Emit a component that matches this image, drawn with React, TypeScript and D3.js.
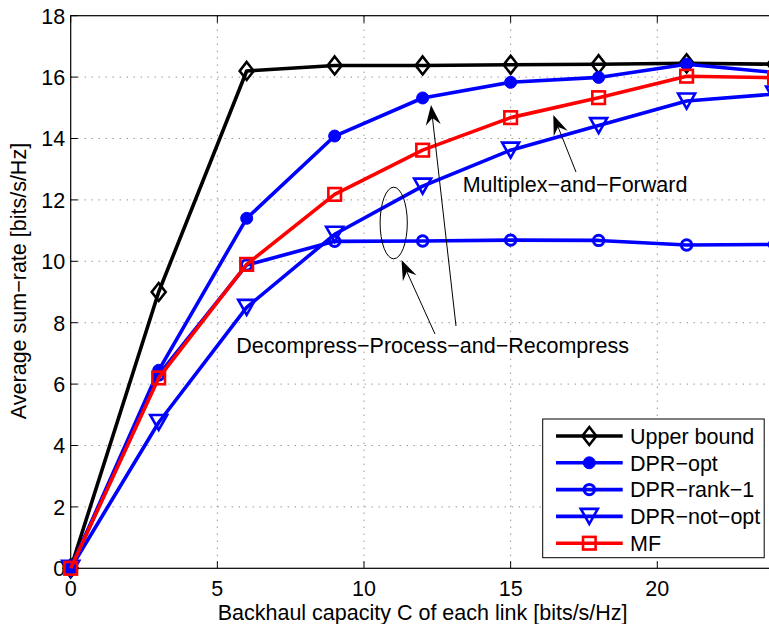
import React from "react";
import * as d3 from "d3";

const xValues = [0, 3, 6, 9, 12, 15, 18, 21, 24];
const upperBound = [0, 9.0, 16.2, 16.38, 16.38, 16.4, 16.42, 16.45, 16.42];
const dprOpt = [0, 6.45, 11.4, 14.08, 15.32, 15.83, 15.99, 16.42, 16.15];
const dprRank1 = [0, 6.3, 9.88, 10.65, 10.66, 10.69, 10.68, 10.53, 10.55];
const dprNotOpt = [0, 4.75, 8.5, 10.88, 12.45, 13.62, 14.42, 15.22, 15.45];
const mf = [0, 6.2, 9.9, 12.18, 13.62, 14.68, 15.33, 16.03, 15.98];

const xTicks = [0, 5, 10, 15, 20];
const yTicks = [0, 2, 4, 6, 8, 10, 12, 14, 16, 18];

const seriesNames = ["Upper bound", "DPR\u2212opt", "DPR\u2212rank\u22121", "DPR\u2212not\u2212opt", "MF"];
const seriesColors = ["#000000", "#0000ff", "#0000ff", "#0000ff", "#ff0000"];
const seriesMarkers = ["diamond", "dot", "circle", "tri", "square"];
const seriesData = [upperBound, dprOpt, dprRank1, dprNotOpt, mf];

const W = 769;
const H = 624;
const FONT = "Liberation Sans, Arial, Helvetica, sans-serif";
const FS = 21.5;

function Marker({ type, cx, cy, color }: { type: string; cx: number; cy: number; color: string }) {
  const sw = 2.6;
  if (type === "diamond") {
    const hw = 7, hh = 9;
    return <path d={`M${cx},${cy - hh}L${cx + hw},${cy}L${cx},${cy + hh}L${cx - hw},${cy}Z`} fill="none" stroke={color} strokeWidth={sw} />;
  }
  if (type === "dot") return <circle cx={cx} cy={cy} r={6} fill={color} stroke={color} strokeWidth={1} />;
  if (type === "circle") return <circle cx={cx} cy={cy} r={5.2} fill="none" stroke={color} strokeWidth={3} />;
  if (type === "tri") {
    const hw = 8.5, h = 7.5;
    return <path d={`M${cx - hw},${cy - h}L${cx + hw},${cy - h}L${cx},${cy + h}Z`} fill="none" stroke={color} strokeWidth={sw} />;
  }
  const s = 6.3;
  return <rect x={cx - s} y={cy - s} width={2 * s} height={2 * s} fill="none" stroke={color} strokeWidth={sw} />;
}

function Arrow({ x1, y1, x2, y2 }: { x1: number; y1: number; x2: number; y2: number }) {
  const dx = x2 - x1, dy = y2 - y1;
  const len = Math.hypot(dx, dy);
  const ux = dx / len, uy = dy / len;
  const px = -uy, py = ux;
  const L = 20, hw = 7.5, notch = 7;
  const bx = x2 - ux * L, by = y2 - uy * L;
  const nx = x2 - ux * (L - notch), ny = y2 - uy * (L - notch);
  const head = `M${x2},${y2}L${bx + px * hw},${by + py * hw}L${nx},${ny}L${bx - px * hw},${by - py * hw}Z`;
  return (
    <g>
      <line x1={x1} y1={y1} x2={nx} y2={ny} stroke="#000" strokeWidth={1} />
      <path d={head} fill="#000" />
    </g>
  );
}

export default function App() {
  const left = 70.7, right = 774.6, top = 15.7, bottom = 568.3;
  const x = d3.scaleLinear().domain([0, 24]).range([left, right]);
  const y = d3.scaleLinear().domain([0, 18]).range([bottom, top]);
  const line = d3.line<number>().x((_, i) => x(xValues[i])).y((v) => y(v));

  const legX = 542.7, legY = 419, legW = 221.5, legH = 138.7;
  const rowH = 26.8;

  return (
    <svg width={W} height={H} style={{ position: "absolute", left: 0, top: 0, background: "#fff" }} fontFamily={FONT}>
      <rect x={0} y={0} width={W} height={H} fill="#fff" />
      {/* grid */}
      {xTicks.slice(1).map((t) => (
        <line key={"gx" + t} x1={x(t)} x2={x(t)} y1={top} y2={bottom} stroke="#666" strokeWidth={1} strokeDasharray="1,6" />
      ))}
      {yTicks.slice(1, -1).map((t) => (
        <line key={"gy" + t} x1={left} x2={right} y1={y(t)} y2={y(t)} stroke="#666" strokeWidth={1} strokeDasharray="1,6" />
      ))}
      {/* ticks */}
      {xTicks.map((t) => (
        <g key={"tx" + t}>
          <line x1={x(t)} x2={x(t)} y1={bottom} y2={bottom - 7} stroke="#000" />
          <line x1={x(t)} x2={x(t)} y1={top} y2={top + 7} stroke="#000" />
          <text x={x(t)} y={bottom + 27.4} fontSize={FS} textAnchor="middle" fill="#000">{t}</text>
        </g>
      ))}
      {yTicks.map((t) => (
        <g key={"ty" + t}>
          <line x1={left} x2={left + 7} y1={y(t)} y2={y(t)} stroke="#000" />
          <text x={left - 5.5} y={y(t) + 7.9} fontSize={FS} textAnchor="end" fill="#000">{t}</text>
        </g>
      ))}
      {/* axes box */}
      <rect x={left} y={top} width={right - left} height={bottom - top} fill="none" stroke="#000" strokeWidth={1.2} />
      {/* series */}
      {seriesData.map((data, si) => (
        <g key={"s" + si}>
          <path d={line(data) || ""} fill="none" stroke={seriesColors[si]} strokeWidth={3.6} strokeLinejoin="round" />
          {data.map((v, i) => (
            <Marker key={i} type={seriesMarkers[si]} cx={x(xValues[i])} cy={y(v)} color={seriesColors[si]} />
          ))}
        </g>
      ))}
      {/* annotations */}
      <ellipse cx={393.7} cy={223} rx={13.6} ry={35.8} fill="none" stroke="#000" strokeWidth={1} />
      <Arrow x1={435} y1={334} x2={401.5} y2={260} />
      <Arrow x1={456} y1={326} x2={431} y2={105} />
      <Arrow x1={576} y1={172} x2={553.3} y2={115} />
      <text x={462.7} y={192.3} fontSize={FS} fill="#000">Multiplex{"\u2212"}and{"\u2212"}Forward</text>
      <text x={236.3} y={353.4} fontSize={FS} fill="#000">Decompress{"\u2212"}Process{"\u2212"}and{"\u2212"}Recompress</text>
      {/* axis labels */}
      <text x={(left + right) / 2} y={620.4} fontSize={FS} textAnchor="middle" fill="#000">Backhaul capacity C of each link [bits/s/Hz]</text>
      <text transform={`translate(26,281) rotate(-90)`} fontSize={FS} textAnchor="middle" fill="#000">Average sum{"\u2212"}rate [bits/s/Hz]</text>
      {/* legend */}
      <rect x={legX} y={legY} width={legW} height={legH} fill="#fff" stroke="#000" strokeWidth={1} />
      {seriesNames.map((name, si) => {
        const cy = legY + 17 + si * rowH;
        return (
          <g key={"l" + si}>
            <line x1={556} x2={622.7} y1={cy} y2={cy} stroke={seriesColors[si]} strokeWidth={3.6} />
            <Marker type={seriesMarkers[si]} cx={589.3} cy={cy} color={seriesColors[si]} />
            <text x={630} y={cy + 7.7} fontSize={FS} fill="#000">{name}</text>
          </g>
        );
      })}
    </svg>
  );
}
